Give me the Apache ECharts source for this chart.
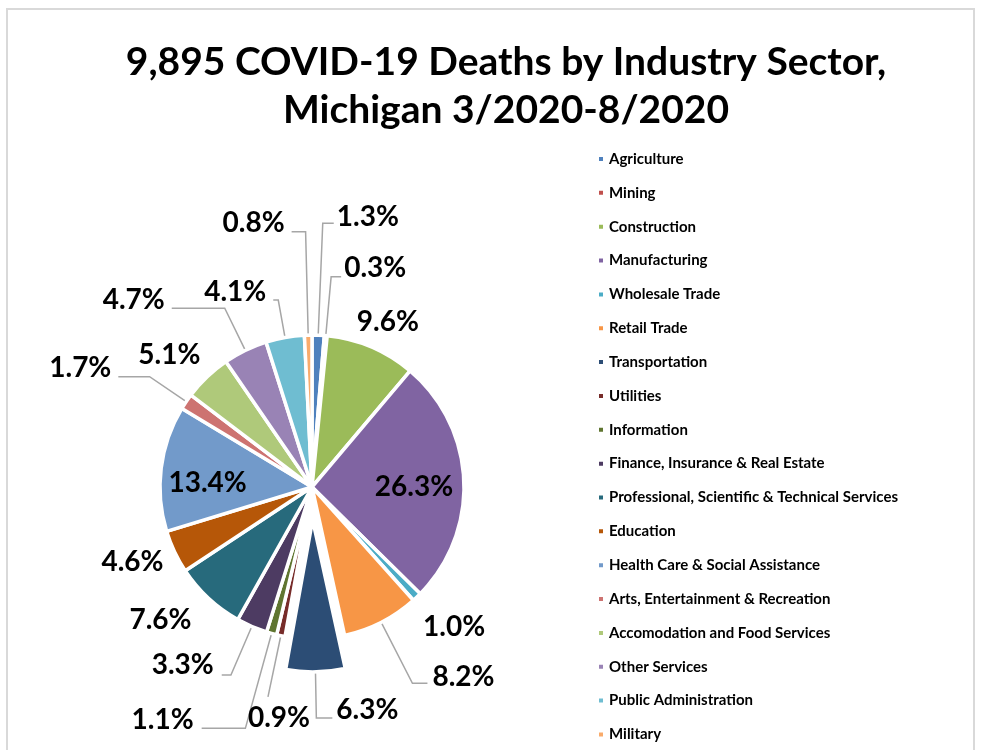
<!DOCTYPE html>
<html>
<head>
<meta charset="utf-8">
<script src="https://cdn.jsdelivr.net/npm/echarts@6/dist/echarts.min.js"></script>
<style>
html,body{margin:0;padding:0;background:#fff;}
#chart{width:981px;height:750px;}
</style>
</head>
<body>
<div id="chart"></div>
<script>
// ---- data ----
const categories = [
  'Agriculture', 'Mining', 'Construction', 'Manufacturing', 'Wholesale Trade',
  'Retail Trade', 'Transportation', 'Utilities', 'Information',
  'Finance, Insurance & Real Estate', 'Professional, Scientific & Technical Services',
  'Education', 'Health Care & Social Assistance', 'Arts, Entertainment & Recreation',
  'Accomodation and Food Services', 'Other Services', 'Public Administration', 'Military'
];
const shares = [1.3, 0.3, 9.6, 26.3, 1.0, 8.2, 6.3, 0.9, 1.1, 3.3, 7.6, 4.6, 13.4, 1.7, 5.1, 4.7, 4.1, 0.8];
const titleLines = ['9,895 COVID-19 Deaths by Industry Sector,', 'Michigan 3/2020-8/2020'];
const explodedCategory = 'Transportation';

// ---- styles ----
const colors = ['#4F81BD', '#C0504D', '#9BBB59', '#8064A2', '#4BACC6', '#F79646', '#2C4D75',
  '#772C2A', '#5F7530', '#4D3B62', '#276A7C', '#B65708', '#729ACA', '#CD7371', '#AFC97A',
  '#9983B5', '#6FBDD1', '#F9AB6B'];
// label placement: leader length, horizontal length, text distance, vertical text shift, horizontal padding
const labelStyle = [
  {len: 112, len2: 11, dist: 3, shift: -6, line: true},
  {len: 59, len2: 10, dist: 3, shift: -9, line: true},
  {len: 27, len2: 0, dist: -25, shift: 0, line: false},
  {inside: true, pad: [0, 0, 0, 46], shift: 3.5},
  {len: 41, len2: 0, dist: -22, shift: 0, line: false},
  {len: 68.5, len2: 15, dist: 5, shift: -6.6, line: true},
  {len: 46, len2: 16, dist: 4, shift: -8, line: true},
  {len: 62.5, len2: 0, dist: -42, shift: 21, line: true},
  {len: 98.4, len2: 43.7, dist: 8, shift: -8.3, line: true},
  {len: 52.7, len2: 9.2, dist: 8, shift: -10, line: true},
  {len: 29.5, len2: 0, dist: -3, shift: 0, line: false},
  {len: 23.2, len2: 0, dist: -10, shift: 0, line: false},
  {inside: true, pad: [0, 52, 0, 0], shift: 5.7},
  {len: 44.3, len2: 31.3, dist: 7, shift: -8.4, line: true},
  {len: 30.2, len2: 0, dist: -14, shift: 0, line: false},
  {len: 46.9, len2: 53, dist: 7, shift: -8.3, line: true},
  {len: 38, len2: 5, dist: 7, shift: -8.3, line: true},
  {len: 103.3, len2: 14, dist: 7, shift: -8.4, line: true}
];
const FONT = 'Lato, "Open Sans", "Noto Sans", sans-serif';
const LABEL_SIZE = 28;

function richFor(shift) {
  const r = {v: {fontSize: LABEL_SIZE, fontWeight: 'bold', fontFamily: FONT, color: '#000', lineHeight: 32}};
  if (shift) r.s = {fontSize: 1, lineHeight: Math.abs(shift) * 2};
  return r;
}

const pieData = categories.map(function (name, i) {
  const ls = labelStyle[i];
  const item = {
    name: name,
    value: shares[i],
    selected: name === explodedCategory,
    itemStyle: {color: colors[i]}
  };
  if (ls.inside) {
    item.label = {position: 'inside', padding: ls.pad, rich: richFor(ls.shift)};
    item.labelLine = {show: false};
  } else {
    item.label = {position: 'outside', distanceToLabelLine: ls.dist, rich: richFor(ls.shift)};
    item.labelLine = {show: ls.line, length: ls.len, length2: ls.len2};
  }
  return item;
});

const chart = echarts.init(document.getElementById('chart'), null, {renderer: 'canvas'});
chart.setOption({
  animation: false,
  backgroundColor: '#ffffff',
  legend: {
    orient: 'vertical',
    left: 597,
    top: 151,
    padding: 0,
    icon: 'rect',
    itemWidth: 6,
    itemHeight: 6,
    itemGap: 17.85,
    selectedMode: false,
    data: categories,
    textStyle: {fontFamily: FONT, fontWeight: 'bold', fontSize: 15, lineHeight: 16, color: '#000'}
  },
  graphic: [{
    type: 'rect',
    shape: {x: 7, y: 9, width: 967, height: 800},
    style: {fill: 'none', stroke: '#d9d9d9', lineWidth: 2},
    silent: true,
    z: -1
  }, {
    type: 'text',
    x: 506,
    y: 38,
    silent: true,
    style: {
      text: titleLines.join('\n'),
      align: 'center',
      verticalAlign: 'top',
      fontFamily: FONT,
      fontWeight: 'bold',
      fontSize: 39,
      lineHeight: 48,
      fill: '#000'
    }
  }],
  series: [{
    type: 'pie',
    center: [312, 487],
    radius: 152,
    startAngle: 90,
    clockwise: true,
    selectedMode: 'single',
    selectedOffset: 33,
    avoidLabelOverlap: false,
    minShowLabelAngle: 0,
    itemStyle: {borderColor: '#ffffff', borderWidth: 3.5},
    emphasis: {disabled: true},
    label: {
      show: true,
      color: '#000',
      fontFamily: FONT,
      fontWeight: 'bold',
      fontSize: LABEL_SIZE,
      formatter: function (p) {
        const sh = labelStyle[p.dataIndex].shift || 0;
        const v = '{v|' + p.value.toFixed(1) + '%}';
        if (sh < 0) return v + '\n{s| }';
        if (sh > 0) return '{s| }\n' + v;
        return v;
      }
    },
    labelLine: {
      smooth: false,
      minTurnAngle: 0,
      lineStyle: {color: '#a6a6a6', width: 1.5}
    },
    data: pieData
  }]
});
</script>
</body>
</html>
